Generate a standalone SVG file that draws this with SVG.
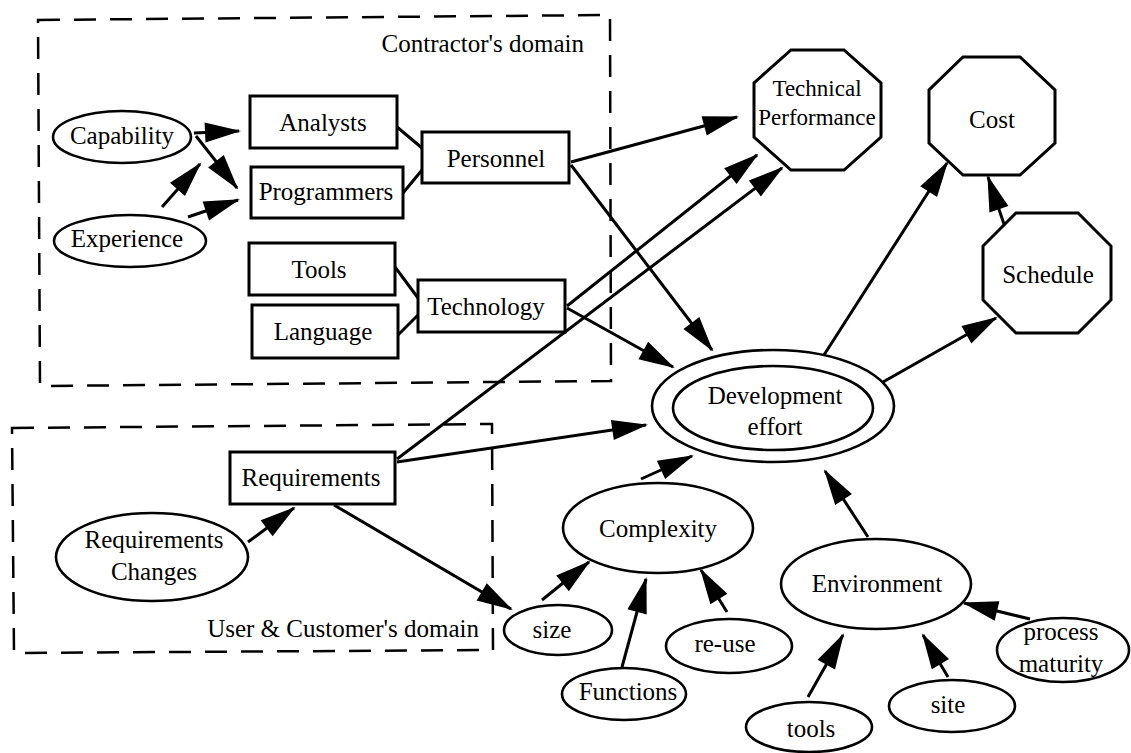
<svg xmlns="http://www.w3.org/2000/svg" width="1131" height="753" viewBox="0 0 1131 753" font-family="Liberation Serif, Times New Roman, DejaVu Serif, serif">
<style>
text{font-family:'Liberation Serif','Times New Roman','DejaVu Serif',serif;font-size:25px;fill:#000;text-anchor:middle}
.n{fill:#fff;stroke:#000;stroke-width:3}
.e{fill:#fff;stroke:#000;stroke-width:2.6}
.c{stroke:#000;stroke-width:3;fill:none}
.a{stroke:#000;stroke-width:3;fill:none;marker-end:url(#ah)}
.d{stroke:#000;stroke-width:2.5;fill:none;stroke-dasharray:22 14}
</style>
<defs>
<marker id="ah" markerUnits="userSpaceOnUse" markerWidth="36" markerHeight="20" refX="34" refY="10" orient="auto" overflow="visible">
<path d="M0,0 L36,10 L0,20 Z" fill="#000"/>
</marker>
</defs>
<rect width="1131" height="753" fill="#fff"/>

<g id="domains">
<path class="d" d="M38,20 L610,15 L611,381 L40,386 Z"/>
<text x="584" y="52" style="text-anchor:end">Contractor's domain</text>
<path class="d" d="M12,428 L492,424 L493,650 L14,653 Z"/>
<text x="479" y="637" style="text-anchor:end">User &amp; Customer's domain</text>
</g>

<g id="connectors">
<line class="c" x1="397" y1="127" x2="422" y2="148"/>
<line class="c" x1="403" y1="193" x2="422" y2="170"/>
<line class="c" x1="395" y1="267" x2="418" y2="298"/>
<line class="c" x1="398" y1="335" x2="418" y2="315"/>
<line class="a" x1="194" y1="133" x2="239" y2="131"/>
<line class="a" x1="196" y1="136" x2="237" y2="188"/>
<line class="a" x1="162" y1="207" x2="200" y2="164"/>
<line class="a" x1="188" y1="217" x2="238" y2="200"/>
<line class="a" x1="571" y1="162" x2="737" y2="117"/>
<line class="a" x1="571" y1="165" x2="712" y2="350"/>
<line class="a" x1="567" y1="306" x2="757" y2="155"/>
<line class="a" x1="567" y1="308" x2="673" y2="367"/>
<line class="a" x1="397" y1="459" x2="782" y2="168"/>
<line class="a" x1="397" y1="462" x2="646" y2="425"/>
<line class="a" x1="334" y1="505" x2="511" y2="609"/>
<line class="a" x1="248" y1="542" x2="294" y2="508"/>
<line class="a" x1="641" y1="479" x2="692" y2="456"/>
<line class="a" x1="542" y1="600" x2="589" y2="562"/>
<line class="a" x1="622" y1="667" x2="646" y2="579"/>
<line class="a" x1="727" y1="612" x2="701" y2="570"/>
<line class="a" x1="868" y1="537" x2="825" y2="471"/>
<line class="a" x1="808" y1="697" x2="843" y2="635"/>
<line class="a" x1="948" y1="677" x2="923" y2="635"/>
<line class="a" x1="1030" y1="619" x2="964" y2="603"/>
<line class="a" x1="824" y1="355" x2="947" y2="163"/>
<line class="a" x1="883" y1="382" x2="996" y2="318"/>
<line class="a" x1="1005" y1="227" x2="988" y2="177"/>
</g>

<g id="capability"><ellipse class="e" cx="122" cy="137" rx="69" ry="26"/><text x="122" y="144">Capability</text></g>
<g id="experience"><ellipse class="e" cx="130" cy="241" rx="76" ry="26"/><text x="127" y="247">Experience</text></g>
<g id="analysts"><rect class="n" x="250" y="96" width="147" height="52"/><text x="323" y="131">Analysts</text></g>
<g id="programmers"><rect class="n" x="251" y="167" width="152" height="51"/><text x="326" y="200">Programmers</text></g>
<g id="personnel"><rect class="n" x="422" y="132" width="147" height="51"/><text x="496" y="167">Personnel</text></g>
<g id="tools-box"><rect class="n" x="249" y="243" width="146" height="52"/><text x="319" y="278">Tools</text></g>
<g id="language"><rect class="n" x="252" y="305" width="146" height="53"/><text x="323" y="340">Language</text></g>
<g id="technology"><rect class="n" x="418" y="280" width="147" height="52"/><text x="486" y="315">Technology</text></g>
<g id="requirements"><rect class="n" x="230" y="452" width="165" height="52"/><text x="311" y="486">Requirements</text></g>
<g id="req-changes"><ellipse class="e" cx="152" cy="557" rx="96" ry="44"/><text x="154" y="548">Requirements</text><text x="154" y="580">Changes</text></g>

<g id="tech-perf"><polygon class="n" points="791,50 844,50 881,83 881,137 844,170 791,170 754,137 754,83"/><text x="817" y="96" style="font-size:23px">Technical</text><text x="817" y="125" style="font-size:23px">Performance</text></g>
<g id="cost"><polygon class="n" points="963,57 1020,57 1055,90 1055,143 1020,175 963,175 929,143 929,90"/><text x="992" y="128">Cost</text></g>
<g id="schedule"><polygon class="n" points="1016,213 1078,213 1111,246 1111,300 1078,333 1016,333 983,300 983,246"/><text x="1048" y="283">Schedule</text></g>

<g id="dev-effort"><ellipse class="e" cx="773" cy="406" rx="121" ry="56"/><ellipse class="e" cx="773" cy="408" rx="100" ry="42"/><text x="775" y="404">Development</text><text x="775" y="435">effort</text></g>
<g id="complexity"><ellipse class="e" cx="658" cy="528" rx="95" ry="45"/><text x="658" y="537">Complexity</text></g>
<g id="environment"><ellipse class="e" cx="876" cy="584" rx="95" ry="45"/><text x="877" y="592">Environment</text></g>
<g id="size"><ellipse class="e" cx="558" cy="630" rx="54" ry="25"/><text x="552" y="638">size</text></g>
<g id="re-use"><ellipse class="e" cx="729" cy="646" rx="63" ry="27"/><text x="725" y="652">re-use</text></g>
<g id="functions"><ellipse class="e" cx="624" cy="694" rx="62" ry="26"/><text x="628" y="700">Functions</text></g>
<g id="tools"><ellipse class="e" cx="809" cy="727" rx="63" ry="25"/><text x="811" y="737">tools</text></g>
<g id="site"><ellipse class="e" cx="952" cy="706" rx="63" ry="26"/><text x="948" y="713">site</text></g>
<g id="process-maturity"><ellipse class="e" cx="1063" cy="650" rx="66" ry="32"/><text x="1061" y="640">process</text><text x="1061" y="672">maturity</text></g>
</svg>
